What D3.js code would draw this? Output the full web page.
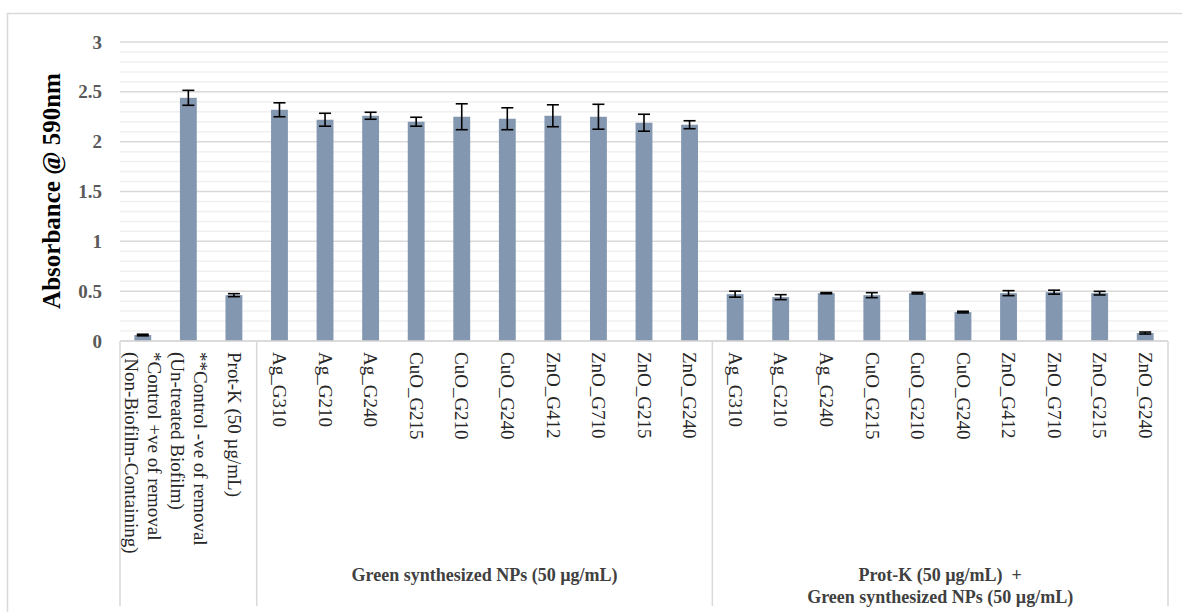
<!DOCTYPE html>
<html>
<head>
<meta charset="utf-8">
<script src="https://cdn.jsdelivr.net/npm/d3@7"></script>
<style>
  body { margin: 0; background: #fff; }
  text { font-family: "Liberation Serif", "Times New Roman", serif; white-space: pre; }
</style>
</head>
<body>
<div id="chart"></div>
<script>
// Category labels (lines separated by \n)
const categories = [
  "*Control +ve of removal\n(Non-Biofilm-Containing)",
  "**Control -ve of removal\n(Un-treated Biofilm)",
  "Prot-K (50 µg/mL)",
  "Ag_G310", "Ag_G210", "Ag_G240", "CuO_G215", "CuO_G210", "CuO_G240",
  "ZnO_G412", "ZnO_G710", "ZnO_G215", "ZnO_G240",
  "Ag_G310 ", "Ag_G210 ", "Ag_G240 ", "CuO_G215 ", "CuO_G210 ", "CuO_G240 ",
  "ZnO_G412 ", "ZnO_G710 ", "ZnO_G215 ", "ZnO_G240 "
];
// Mean absorbance values
const values = [0.06, 2.44, 0.46,
  2.32, 2.22, 2.26, 2.20, 2.25, 2.23, 2.26, 2.25, 2.19, 2.17,
  0.47, 0.44, 0.48, 0.46, 0.48, 0.29, 0.48, 0.49, 0.48, 0.08];
// Error bar half-widths
const errors = [0.008, 0.075, 0.015,
  0.07, 0.065, 0.035, 0.045, 0.13, 0.11, 0.11, 0.125, 0.085, 0.04,
  0.03, 0.025, 0.006, 0.025, 0.008, 0.008, 0.025, 0.02, 0.018, 0.01];
// Group boundaries (category index where each group starts) and labels
const groupStarts = [0, 3, 13, 23];
const groupLabels = [
  [],
  ["Green synthesized NPs (50 µg/mL)"],
  ["Prot-K (50 µg/mL)  +", "Green synthesized NPs (50 µg/mL)"]
];
const yTicks = [0, 0.5, 1, 1.5, 2, 2.5, 3];

const width = 1182, height = 612;
const plot = { left: 120, right: 1168, top: 42, bottom: 341 };

const svg = d3.select("#chart").append("svg")
  .attr("width", width).attr("height", height);

// outer chart border
svg.append("rect")
  .attr("x", 7.5).attr("y", 13.5)
  .attr("width", 1190).attr("height", 620)
  .attr("fill", "none").attr("stroke", "#d9d9d9").attr("stroke-width", 1.5);

const x = d3.scaleBand()
  .domain(categories)
  .range([plot.left, plot.right])
  .paddingInner(0.63)
  .paddingOuter(0.315);

const y = d3.scaleLinear().domain([0, 3]).range([plot.bottom, plot.top]);

// minor gridlines every 0.1
const minor = d3.range(1, 30).filter((i) => i % 5 !== 0).map((i) => i / 10);
svg.append("g").selectAll("line").data(minor).enter().append("line")
  .attr("x1", plot.left).attr("x2", plot.right)
  .attr("y1", (d) => y(d)).attr("y2", (d) => y(d))
  .attr("stroke", "#f0f0f0").attr("stroke-width", 1.5);

// major gridlines
svg.append("g").selectAll("line").data(yTicks).enter().append("line")
  .attr("x1", plot.left).attr("x2", plot.right)
  .attr("y1", (d) => y(d)).attr("y2", (d) => y(d))
  .attr("stroke", "#d9d9d9").attr("stroke-width", 1.5);

// y axis tick labels
const yAxis = d3.axisLeft(y).tickValues(yTicks).tickSize(0).tickPadding(18)
  .tickFormat(d3.format("~g"));
const yg = svg.append("g").attr("transform", `translate(${plot.left},0)`).call(yAxis);
yg.select(".domain").remove();
yg.selectAll("text")
  .attr("font-family", "Liberation Serif")
  .attr("font-size", 19).attr("font-weight", "bold").attr("fill", "#595959");

// y axis title
svg.append("text")
  .attr("transform", `translate(60,191) rotate(-90)`)
  .attr("text-anchor", "middle")
  .attr("font-size", 25).attr("font-weight", "bold").attr("fill", "#000")
  .text("Absorbance @ 590nm");

// bars
svg.append("g").selectAll("rect").data(values).enter().append("rect")
  .attr("x", (d, i) => x(categories[i]))
  .attr("width", x.bandwidth())
  .attr("y", (d) => y(d))
  .attr("height", (d) => y(0) - y(d))
  .attr("fill", "#8497b0");

// error bars
const eb = svg.append("g").attr("stroke", "#000").attr("stroke-width", 1.6);
values.forEach((v, i) => {
  const cx = x(categories[i]) + x.bandwidth() / 2;
  const y1 = y(v + errors[i]), y2 = y(v - errors[i]);
  eb.append("line").attr("x1", cx).attr("x2", cx).attr("y1", y1).attr("y2", y2);
  eb.append("line").attr("x1", cx - 6).attr("x2", cx + 6).attr("y1", y1).attr("y2", y1);
  eb.append("line").attr("x1", cx - 6).attr("x2", cx + 6).attr("y1", y2).attr("y2", y2);
});

// category axis line and group separators
svg.append("line")
  .attr("x1", plot.left).attr("x2", plot.right)
  .attr("y1", y(0)).attr("y2", y(0))
  .attr("stroke", "#d9d9d9").attr("stroke-width", 1.5);

const gap = (x.step() - x.bandwidth()) / 2;
const boundary = (k) => (k < categories.length
  ? x(categories[k]) - gap
  : x(categories[k - 1]) + x.bandwidth() + gap);

svg.append("g").selectAll("line").data(groupStarts).enter().append("line")
  .attr("x1", (k) => boundary(k)).attr("x2", (k) => boundary(k))
  .attr("y1", y(0)).attr("y2", 606)
  .attr("stroke", "#d9d9d9").attr("stroke-width", 1.5);

// rotated category labels
const lineGap = 23;
categories.forEach((c, i) => {
  const lines = c.trim().split("\n");
  const cx = x(c) + x.bandwidth() / 2;
  const t = svg.append("text")
    .attr("transform", `translate(${cx},352) rotate(90)`)
    .attr("font-size", 19).attr("fill", "#262626");
  lines.forEach((ln, j) => {
    const off = (j - (lines.length - 1) / 2) * lineGap;
    t.append("tspan").attr("x", 0).attr("y", off).attr("dy", "0.33em").text(ln);
  });
});

// group labels
groupLabels.forEach((lines, g) => {
  const cx = (boundary(groupStarts[g]) + boundary(groupStarts[g + 1])) / 2;
  lines.forEach((ln, j) => {
    svg.append("text")
      .attr("x", cx).attr("y", 581 + j * 22)
      .attr("text-anchor", "middle")
      .attr("font-size", 18).attr("font-weight", "bold").attr("fill", "#404040")
      .text(ln);
  });
});
</script>
</body>
</html>
